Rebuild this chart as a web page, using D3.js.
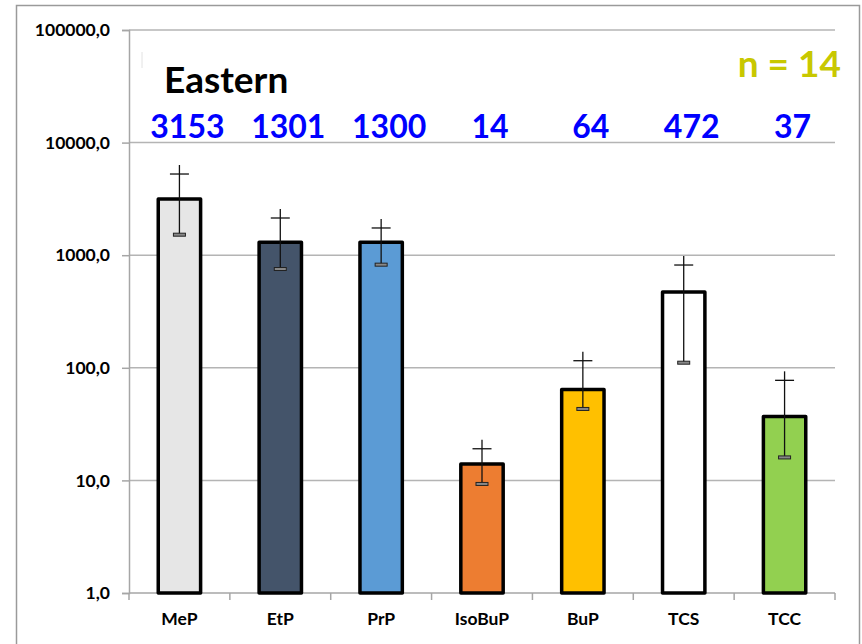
<!DOCTYPE html>
<html>
<head>
<meta charset="utf-8">
<script src="https://cdn.jsdelivr.net/npm/d3@7/dist/d3.min.js"></script>
<style>
  html, body { margin: 0; padding: 0; background: #fff; }
  svg { display: block; font-family: Lato, "Open Sans", sans-serif; }
</style>
</head>
<body>
<svg id="chart" width="862" height="644"></svg>
<script>
// Mean concentrations per compound (log scale), with upper / lower error limits
const categories = ["MeP", "EtP", "PrP", "IsoBuP", "BuP", "TCS", "TCC"];
const means      = [3153, 1301, 1300, 14, 64, 472, 37];
const upper      = [5260, 2140, 1745, 19.1, 115.6, 818, 77.4];
const lower      = [1521, 754, 824, 9.3, 43.1, 111, 16.0];
const colors     = ["#e6e6e6", "#44546a", "#5b9bd5", "#ed7d31", "#ffc000", "#ffffff", "#92d050"];
const yTicks     = [1, 10, 100, 1000, 10000, 100000];
const title      = "Eastern";
const sampleNote = "n = 14";

const svg = d3.select("#chart");
const plot = { left: 129, right: 835, top: 30, bottom: 593 };

// outer frame (left, top, right edges)
svg.append("path")
  .attr("d", "M16.5,644 V5.5 H859.5 V644")
  .attr("fill", "none").attr("stroke", "#9a9a9a").attr("stroke-width", 1.5);

const x = d3.scaleBand().domain(categories).range([plot.left, plot.right]).paddingInner(0.58).paddingOuter(0.29);
const y = d3.scaleLog().domain([1, 100000]).range([plot.bottom, plot.top]);

// horizontal gridlines
svg.append("g").selectAll("line").data(yTicks.slice(1)).join("line")
  .attr("x1", plot.left).attr("x2", plot.right)
  .attr("y1", d => y(d)).attr("y2", d => y(d))
  .attr("stroke", "#b4b4b4").attr("stroke-width", 1.5);

// y axis
const yAxis = d3.axisLeft(y).tickValues(yTicks).tickSize(7).tickPadding(12)
  .tickFormat(d => d3.format(".1f")(d).replace(".", ","));
const gy = svg.append("g").attr("transform", `translate(${plot.left},0)`).call(yAxis);
gy.select(".domain").attr("stroke", "#a6a6a6").attr("stroke-width", 1.5);
gy.selectAll(".tick line").attr("stroke", "#a6a6a6").attr("stroke-width", 1.5);
gy.selectAll(".tick text").attr("font-size", 17.5).attr("font-weight", 700)
  .attr("font-family", "Lato, sans-serif").attr("fill", "#000");

// x axis: ticks at band boundaries
const bandStep = x.step();
const xEdges = d3.range(categories.length + 1).map(i => plot.left + i * bandStep);
svg.append("line").attr("x1", plot.left).attr("x2", plot.right)
  .attr("y1", plot.bottom).attr("y2", plot.bottom)
  .attr("stroke", "#a6a6a6").attr("stroke-width", 1.5);
svg.append("g").selectAll("line").data(xEdges).join("line")
  .attr("x1", d => d).attr("x2", d => d)
  .attr("y1", plot.bottom).attr("y2", plot.bottom + 7)
  .attr("stroke", "#a6a6a6").attr("stroke-width", 1.5);
svg.append("g").selectAll("text").data(categories).join("text")
  .attr("x", d => x(d) + x.bandwidth() / 2).attr("y", 625)
  .attr("text-anchor", "middle").attr("font-size", 17.5).attr("font-weight", 700)
  .attr("fill", "#000").text(d => d);

// bars
svg.append("g").selectAll("rect").data(categories).join("rect")
  .attr("x", d => x(d)).attr("width", x.bandwidth())
  .attr("y", (d, i) => y(means[i]))
  .attr("height", (d, i) => plot.bottom - y(means[i]))
  .attr("fill", (d, i) => colors[i])
  .attr("stroke", "#000").attr("stroke-width", 3.5).attr("stroke-linejoin", "round");

// error bars
const eb = svg.append("g").selectAll("g").data(categories).join("g")
  .attr("transform", d => `translate(${x(d) + x.bandwidth() / 2},0)`);
eb.append("line")
  .attr("y1", (d, i) => y(lower[i])).attr("y2", (d, i) => y(upper[i]) - 9)
  .attr("stroke", "#111").attr("stroke-width", 1.3);
eb.append("line")
  .attr("x1", -9.5).attr("x2", 9.5)
  .attr("y1", (d, i) => y(upper[i])).attr("y2", (d, i) => y(upper[i]))
  .attr("stroke", "#111").attr("stroke-width", 1.3);
eb.append("rect")
  .attr("x", -6).attr("width", 12)
  .attr("y", (d, i) => y(lower[i]) - 1.5).attr("height", 3)
  .attr("fill", "#888").attr("stroke", "#222").attr("stroke-width", 1);

// value labels in a row above the bars (slightly right of each bar centre)
svg.append("g").selectAll("text").data(categories).join("text")
  .attr("x", d => x(d) + x.bandwidth() / 2 + 8).attr("y", 138)
  .attr("text-anchor", "middle").attr("font-size", 32).attr("font-weight", 700)
  .attr("fill", "#0000ff").text((d, i) => means[i]);

// title and sample size
svg.append("line").attr("x1", 142).attr("x2", 142).attr("y1", 52).attr("y2", 68)
  .attr("stroke", "#e2e2e2").attr("stroke-width", 1);
svg.append("text").attr("x", 164).attr("y", 92.5)
  .attr("font-size", 37).attr("font-weight", 700).attr("fill", "#000").text(title);
svg.append("text").attr("x", 841).attr("y", 77).attr("text-anchor", "end")
  .attr("font-size", 37).attr("font-weight", 700).attr("fill", "#c8c800").text(sampleNote);
</script>
</body>
</html>
